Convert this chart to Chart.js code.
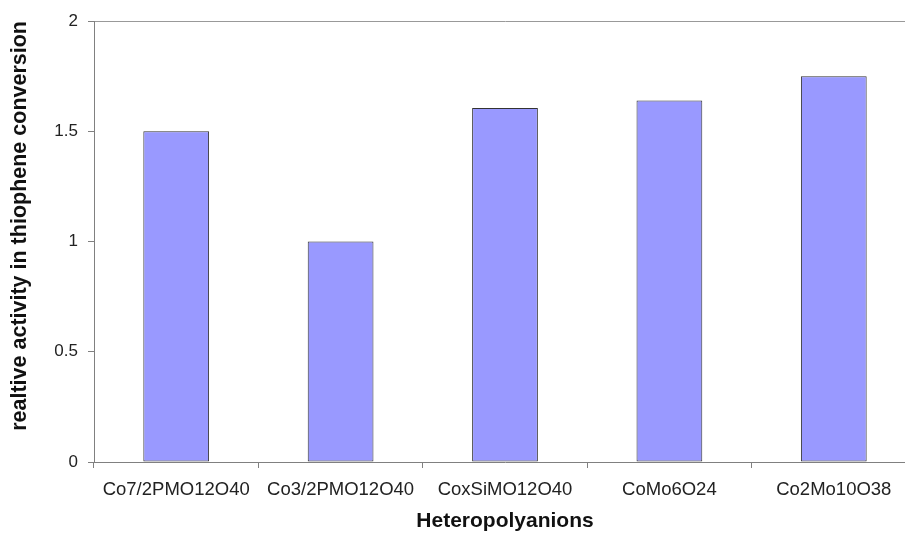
<!DOCTYPE html>
<html>
<head>
<meta charset="utf-8">
<script src="https://cdn.jsdelivr.net/npm/chart.js@4/dist/chart.umd.min.js"></script>
<style>
  html, body { margin: 0; padding: 0; background: #fff; overflow: hidden; }
  #wrap { width: 905px; height: 535px; overflow: hidden; }
</style>
</head>
<body>
<div id="wrap"><canvas id="chart" width="920" height="535"></canvas></div>
<script>
// categories and values
const categories = ["Co7/2PMO12O40", "Co3/2PMO12O40", "CoxSiMO12O40", "CoMo6O24", "Co2Mo10O38"];
const activity = [1.5, 1.0, 1.605, 1.64, 1.75];
const yMin = 0;
const yMax = 2;
const yStep = 0.5;

const ctx = document.getElementById("chart");
Chart.defaults.font.family = "'Liberation Sans', Arial, sans-serif";
Chart.defaults.color = "#222";

new Chart(ctx, {
  type: "bar",
  data: {
    labels: categories,
    datasets: [{
      data: activity,
      backgroundColor: "#9999ff",
      borderColor: "#333",
      borderWidth: 1,
      borderSkipped: false,
      barPercentage: 0.4,
      categoryPercentage: 1.0
    }]
  },
  options: {
    responsive: false,
    animation: false,
    devicePixelRatio: 1,
    layout: { padding: { top: 21, right: 4, left: 0, bottom: 0 } },
    plugins: { legend: { display: false }, tooltip: { enabled: false } },
    scales: {
      x: {
        grid: { offset: true, drawOnChartArea: false, tickLength: 6, color: "#808080" },
        border: { color: "#808080", width: 1 },
        ticks: { font: { size: 18.5 }, padding: 11, maxRotation: 0, autoSkip: false, color: "#222" },
        title: {
          display: true,
          text: "Heteropolyanions",
          font: { size: 21, weight: "bold" },
          color: "#111",
          padding: { top: 0, bottom: 1 }
        },
        afterFit: (scale) => { scale.height = 73; }
      },
      y: {
        min: yMin,
        max: yMax,
        ticks: {
          stepSize: yStep,
          font: { size: 17 },
          padding: 10,
          color: "#222",
          callback: (v) => String(v)
        },
        grid: {
          tickLength: 6,
          color: (c) => (c.tick && c.tick.value === yMax) ? "#999" : "rgba(0,0,0,0)",
          tickColor: "#808080"
        },
        border: { color: "#808080", width: 1 },
        title: {
          display: true,
          text: "realtive activity in thiophene conversion",
          align: "end",
          font: { size: 21.5, weight: "bold" },
          color: "#111",
          padding: { top: 7, bottom: 0 }
        },
        afterFit: (scale) => { scale.width = 94; }
      }
    }
  }
});
</script>
</body>
</html>
